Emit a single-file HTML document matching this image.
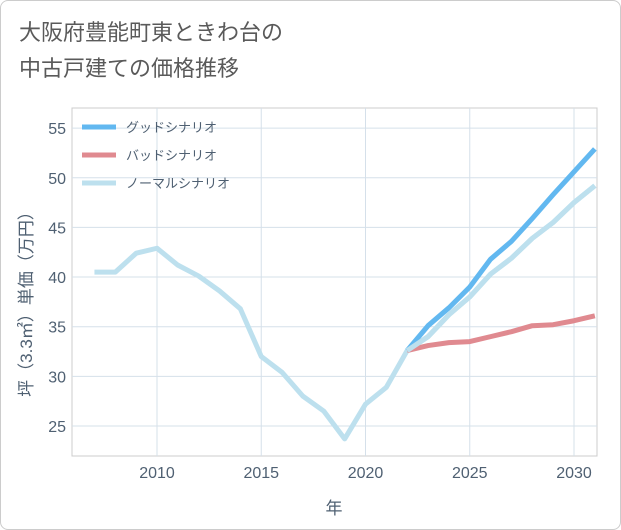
<!DOCTYPE html>
<html><head><meta charset="utf-8"><style>
body{margin:0;background:#fff;}
#wrap{position:relative;width:619px;height:528px;border:1px solid #ccc;border-radius:8px;background:#fff;overflow:hidden;font-family:"Liberation Sans","Noto Sans CJK JP",sans-serif;}
#title{position:absolute;left:18px;top:14px;font-size:22px;line-height:36px;color:#5a5a5a;}
</style></head><body>
<div id="wrap">
<div id="title">大阪府豊能町東ときわ台の<br>中古戸建ての価格推移</div>
<svg id="chart" width="621" height="530" style="position:absolute;left:-1px;top:-1px"></svg>
</div>
<script>
const years=[2007,2008,2009,2010,2011,2012,2013,2014,2015,2016,2017,2018,2019,2020,2021,2022,2023,2024,2025,2026,2027,2028,2029,2030,2031];
const normal=[40.5,40.5,42.4,42.9,41.2,40.1,38.6,36.8,32.0,30.4,28.0,26.5,23.7,27.2,28.9,32.6,34.0,36.2,38.0,40.3,41.9,43.9,45.5,47.5,49.2];
const goodYears=[2022,2023,2024,2025,2026,2027,2028,2029,2030,2031];
const good=[32.6,35.1,36.9,39.0,41.8,43.6,45.9,48.3,50.6,52.9];
const bad=[32.6,33.1,33.4,33.5,34.0,34.5,35.1,35.2,35.6,36.1];
const xTicks=[2010,2015,2020,2025,2030];
const yTicks=[25,30,35,40,45,50,55];
const svg=document.getElementById('chart');const NS='http://www.w3.org/2000/svg';
const L=72,R=597,T=108,B=456;
const TXT='#4f6072';
const x=v=>157+(v-2010)*20.85;
const y=v=>426-(v-25)*9.93;
function mk(t,a,p){const e=document.createElementNS(NS,t);for(const k in a)e.setAttribute(k,a[k]);(p||svg).appendChild(e);return e;}
const bg=mk('rect',{x:L,y:T,width:R-L,height:B-T,fill:'#fff',stroke:'#ccc'});


xTicks.forEach(v=>{const l=mk('line',{x1:x(v),x2:x(v),y1:T,y2:B,stroke:'#d5e0ea'});


const t=mk('text',{x:x(v),y:478,'text-anchor':'middle','font-size':16,fill:TXT});t.textContent=v;

});
yTicks.forEach(v=>{const l=mk('line',{x1:L,x2:R,y1:y(v),y2:y(v),stroke:'#d5e0ea'});


const t=mk('text',{x:66,y:y(v)+6,'text-anchor':'end','font-size':16,fill:TXT});t.textContent=v;

});
function line(xs,ys,c,name){const d=xs.map((v,i)=>(i?'L':'M')+x(v)+','+y(ys[i])).join('');
const p=mk('path',{d:d,fill:'none',stroke:c,'stroke-width':5,'stroke-linejoin':'round'});

}
line(years,normal,'#bde0ee','normal-line');
line(goodYears,bad,'#e08a90','bad-line');
line(goodYears,good,'#62b8f0','good-line');
line(years.slice(15),normal.slice(15),'#bde0ee','normal-line-forecast');
const leg=[['グッドシナリオ','#62b8f0'],['バッドシナリオ','#e08a90'],['ノーマルシナリオ','#bde0ee']];
leg.forEach((e,i)=>{const yy=127+i*28;
const l=mk('line',{x1:82,x2:116,y1:yy,y2:yy,stroke:e[1],'stroke-width':5});


const t=mk('text',{x:126,y:yy+5,'font-size':13,fill:TXT});t.textContent=e[0];

});
const xt=mk('text',{x:334,y:514,'text-anchor':'middle','font-size':17,fill:TXT});xt.textContent='年';


const yt=mk('text',{x:0,y:0,'text-anchor':'middle','font-size':17,fill:TXT,transform:'translate(32,300) rotate(-90)'});yt.textContent='坪（3.3㎡）単価（万円）';


</script>
</body></html>
